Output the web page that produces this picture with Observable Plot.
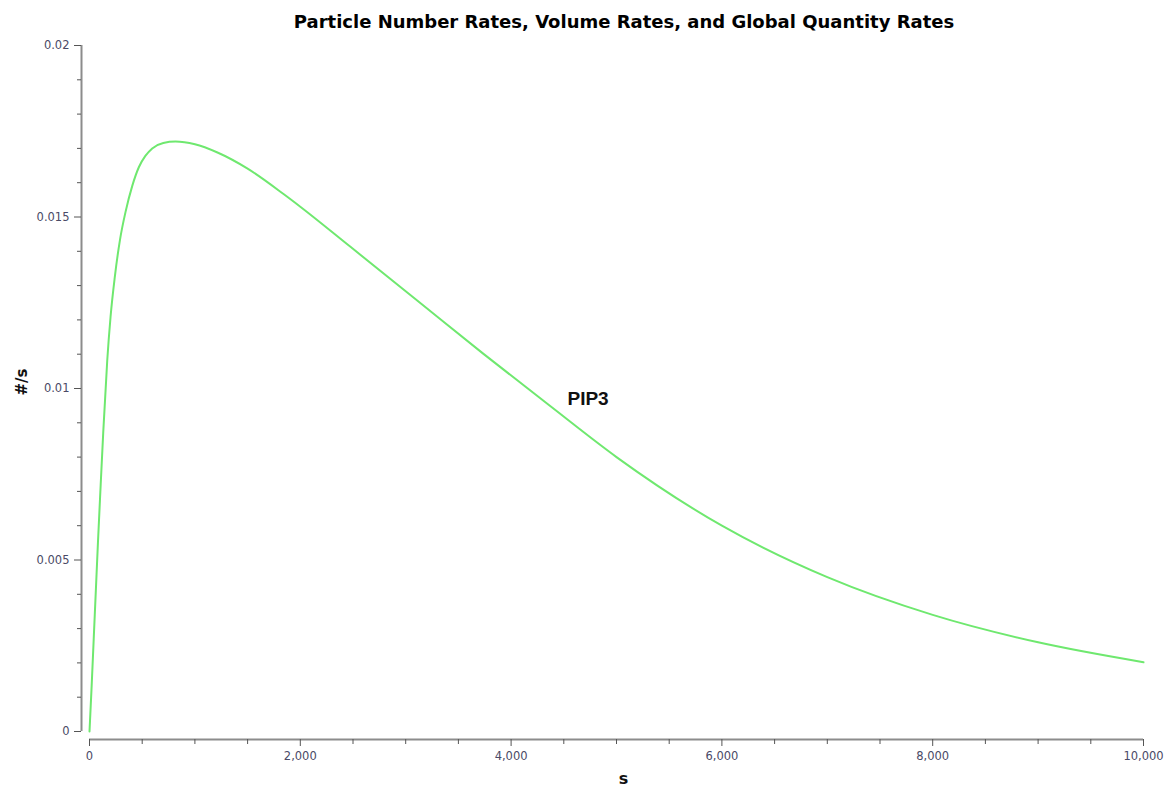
<!DOCTYPE html>
<html><head><meta charset="utf-8">
<script src="https://cdn.jsdelivr.net/npm/d3@7"></script>
<script src="https://cdn.jsdelivr.net/npm/@observablehq/plot@0.6"></script>
<style>
body{margin:0;background:#fff;}
#title{position:relative;height:32px;font:bold 18px "DejaVu Sans",sans-serif;color:#000;}
#title span{position:absolute;left:624px;top:11px;transform:translateX(-50%);white-space:nowrap;line-height:22px;}
#chart svg{display:block;}
</style></head><body>
<div id="title"><span id="titleText"></span></div>
<div id="chart"></div>
<script>
const chartTitle = "Particle Number Rates, Volume Rates, and Global Quantity Rates";
const xLabel = "s";
const yLabel = "#/s";
const seriesName = "PIP3";

const time = [0, 20, 40, 60, 80, 100, 130, 168, 200, 240, 290, 342, 405, 468, 530, 595, 700, 816, 1000, 1214, 1500, 1841, 2000, 2476, 3112, 3738, 4374, 5000, 6000, 7000, 8000, 9000, 10000];
const rate = [0, 0.0013, 0.0027, 0.0041, 0.0055, 0.0068, 0.0087, 0.0108, 0.0121, 0.01325, 0.01435, 0.01515, 0.0159, 0.01645, 0.01678, 0.0170, 0.01716, 0.0172, 0.01712, 0.01688, 0.01641, 0.01567, 0.0153, 0.01413, 0.01256, 0.01101, 0.00948, 0.0080, 0.0060, 0.0045, 0.0034, 0.0026, 0.00202];

const xMajorTicks = [0, 2000, 4000, 6000, 8000, 10000];
const xMinorTicks = [500, 1000, 1500, 2500, 3000, 3500, 4500, 5000, 5500, 6500, 7000, 7500, 8500, 9000, 9500];
const yMajorTicks = [0, 0.005, 0.01, 0.015, 0.02];
const yMajorLabels = ["0", "0.005", "0.01", "0.015", "0.02"];
const yMinorTicks = [0.001, 0.002, 0.003, 0.004, 0.006, 0.007, 0.008, 0.009, 0.011, 0.012, 0.013, 0.014, 0.016, 0.017, 0.018, 0.019];

document.getElementById("titleText").textContent = chartTitle;

const data = time.map((t, i) => ({t, r: rate[i]}));
const tickColor = "#555";
const labelColor = "#4a4a66";
const axisColor = "#8c8c8c";

const plot = Plot.plot({
  width: 1176,
  height: 757,
  marginLeft: 89,
  marginRight: 33,
  marginTop: 13,
  marginBottom: 58,
  x: {domain: [0, 10000]},
  y: {domain: [0, 0.02]},
  style: {fontFamily: "'DejaVu Sans', sans-serif", fontSize: "11.5px", background: "#fff", color: labelColor},
  marks: [
    Plot.ruleX([0], {y1: 0, y2: 0.02, dx: -8, stroke: axisColor, strokeWidth: 2}),
    Plot.ruleY([0], {x1: 0, x2: 10000, dy: 8, stroke: axisColor, strokeWidth: 2}),
    Plot.axisY(yMajorTicks, {anchor: "left", dx: -8, tickSize: 7, tickPadding: 5, stroke: tickColor, fill: labelColor, tickFormat: d => yMajorLabels[yMajorTicks.indexOf(d)], label: null}),
    Plot.axisY(yMinorTicks, {anchor: "left", dx: -8, tickSize: 4, tickFormat: () => "", stroke: tickColor, label: null}),
    Plot.axisX(xMajorTicks, {anchor: "bottom", dy: 8, tickSize: 7, tickPadding: 5, stroke: tickColor, fill: labelColor, tickFormat: d3.format(",d"), label: null}),
    Plot.axisX(xMinorTicks, {anchor: "bottom", dy: 8, tickSize: 5, tickFormat: () => "", stroke: tickColor, label: null}),
    Plot.line(data, {x: "t", y: "r", stroke: "#6fe86f", strokeWidth: 2, curve: "monotone-x"}),
    Plot.text([seriesName], {x: 4535, y: 0.0097, text: d => d, textAnchor: "start", lineAnchor: "middle", fontWeight: "bold", fontSize: 19, fontFamily: "'Liberation Sans', Arial, sans-serif", fill: "#111"}),
    Plot.text([yLabel], {frameAnchor: "left", dx: -67, dy: 7, rotate: -90, text: d => d, fontWeight: "bold", fontSize: 15, fill: "#111", lineAnchor: "middle"}),
    Plot.text([xLabel], {frameAnchor: "bottom", dx: 7, dy: 47, text: d => d, fontWeight: "bold", fontSize: 16, fill: "#111", lineAnchor: "middle"})
  ]
});
document.getElementById("chart").appendChild(plot);
</script>
</body></html>
